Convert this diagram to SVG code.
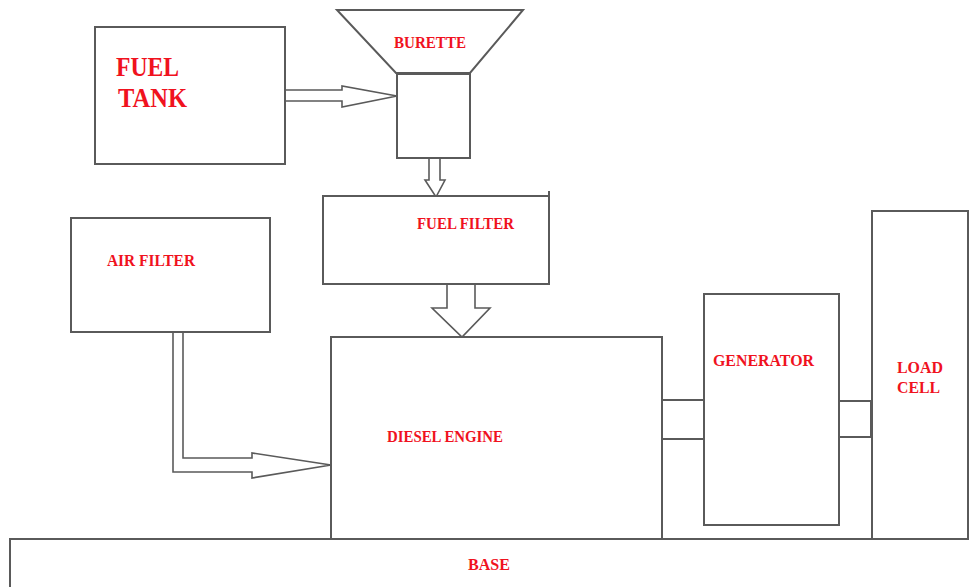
<svg xmlns="http://www.w3.org/2000/svg" width="969" height="587" viewBox="0 0 969 587">
<style>
.box{fill:#fff;stroke:#5a5a5a;stroke-width:2}
.arr{fill:#fff;stroke:#5a5a5a;stroke-width:1.6;stroke-linejoin:miter}
.t{fill:#f0121e;font-family:"Liberation Serif","Times New Roman",serif;font-weight:bold}
</style>
<rect width="969" height="587" fill="#fff"/>
<g id="connectors">
<polygon class="arr" points="285,90 342,90 342,86 397,96 342,107 342,101 285,101"/>
<polygon class="arr" points="429,158 429,180 425,180 436,197 445,180 440,180 440,158"/>
<polygon class="arr" points="447,284 447,308 432,308 462,337 490,308 475,308 475,284"/>
<polygon class="arr" points="173,332 173,472 252,472 252,478 331,465 252,453 252,458 183,458 183,332"/>
<rect class="box" x="662" y="400" width="42" height="39"/>
<rect class="box" x="839" y="401" width="32" height="36"/>
</g>
<g id="fuel-tank">
<rect class="box" x="95" y="27" width="190" height="137"/>
<text class="t" x="116" y="76" font-size="27" textLength="63" lengthAdjust="spacingAndGlyphs">FUEL</text>
<text class="t" x="118" y="107" font-size="27" textLength="69" lengthAdjust="spacingAndGlyphs">TANK</text>
</g>
<g id="burette">
<polygon class="box" points="337,10 523,10 470,73 396,73"/>
<rect class="box" x="397" y="74" width="73" height="84"/>
<text class="t" x="394" y="48" font-size="17" textLength="72" lengthAdjust="spacingAndGlyphs">BURETTE</text>
</g>
<g id="fuel-filter">
<path class="box" d="M323,196 H549 V284 H323 Z M549,196 V191"/>
<text class="t" x="417" y="229" font-size="17" textLength="97" lengthAdjust="spacingAndGlyphs">FUEL FILTER</text>
</g>
<g id="air-filter">
<rect class="box" x="71" y="218" width="199" height="114"/>
<text class="t" x="107" y="266" font-size="17" textLength="88" lengthAdjust="spacingAndGlyphs">AIR FILTER</text>
</g>
<g id="diesel-engine">
<rect class="box" x="331" y="337" width="331" height="202"/>
<text class="t" x="387" y="442" font-size="17" textLength="116" lengthAdjust="spacingAndGlyphs">DIESEL ENGINE</text>
</g>
<g id="generator">
<rect class="box" x="704" y="294" width="135" height="231"/>
<text class="t" x="713" y="366" font-size="17" textLength="101" lengthAdjust="spacingAndGlyphs">GENERATOR</text>
</g>
<g id="load-cell">
<rect class="box" x="872" y="211" width="96" height="328"/>
<text class="t" x="897" y="373" font-size="17" textLength="46" lengthAdjust="spacingAndGlyphs">LOAD</text>
<text class="t" x="897" y="393" font-size="17" textLength="43" lengthAdjust="spacingAndGlyphs">CELL</text>
</g>
<g id="base">
<rect class="box" x="10" y="539" width="965" height="60"/>
<text class="t" x="468" y="570" font-size="17" textLength="42" lengthAdjust="spacingAndGlyphs">BASE</text>
</g>
</svg>
